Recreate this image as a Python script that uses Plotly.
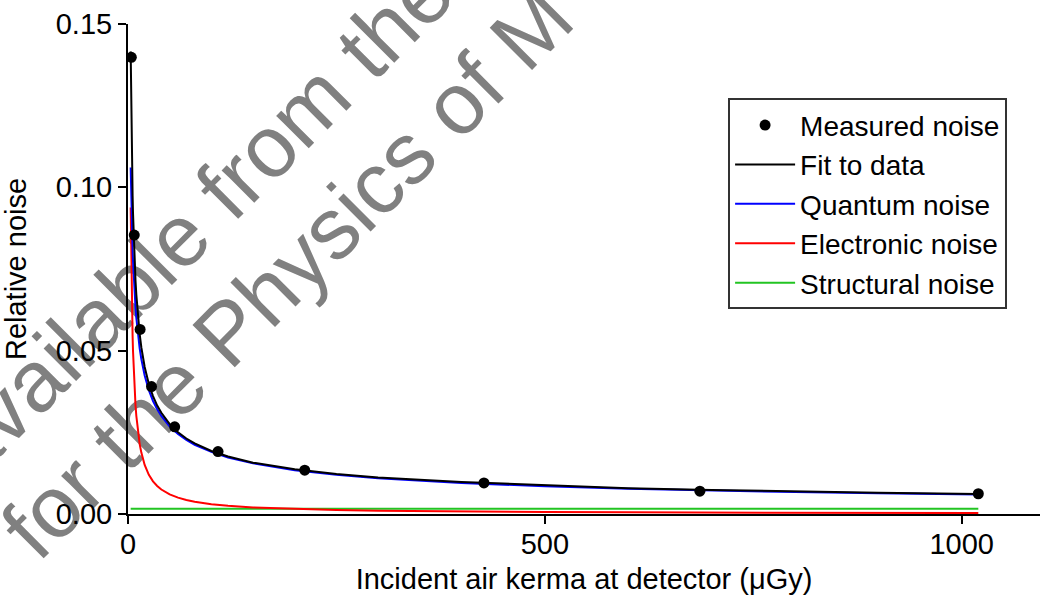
import plotly.graph_objects as go

# Measured noise points
dose_measured = [4.0, 7.5, 14.5, 28.2, 56.0, 108.0, 212.0, 427.0, 686.0, 1020.0]
noise_measured = [0.1398, 0.0854, 0.0565, 0.0390, 0.0267, 0.0191, 0.0134, 0.0095, 0.0070, 0.0062]

# Curve sample doses
dose_curve = [3.2, 3.6, 4, 4.5, 5, 5.5, 6, 7, 8, 9, 10, 12, 14, 16, 18, 20, 25, 30, 35, 40,
              50, 60, 70, 80, 100, 120, 150, 200, 250, 300, 400, 500, 600, 700, 800, 900, 1020]
fit_curve = [0.1416, 0.1302, 0.1209, 0.1116, 0.1039, 0.0976, 0.0922, 0.0836, 0.0769, 0.0715,
             0.0671, 0.0602, 0.0551, 0.0510, 0.0478, 0.0450, 0.0398, 0.0361, 0.0332, 0.0310,
             0.0275, 0.0250, 0.0231, 0.0216, 0.0193, 0.0176, 0.0157, 0.01369, 0.01226, 0.0112,
             0.00978, 0.0088, 0.00792, 0.00736, 0.00691, 0.00653, 0.00616]
quantum_curve = [0.1061, 0.1000, 0.0949, 0.0894, 0.0849, 0.0809, 0.0775, 0.0717, 0.0671, 0.0632,
                 0.0600, 0.0548, 0.0507, 0.0474, 0.0447, 0.0424, 0.0379, 0.0346, 0.0321, 0.0300,
                 0.0268, 0.0245, 0.0227, 0.0212, 0.0190, 0.0173, 0.0155, 0.0134, 0.0120, 0.01095,
                 0.00949, 0.00849, 0.00775, 0.00717, 0.00671, 0.00632, 0.00594]
electronic_curve = [0.0938, 0.0833, 0.0750, 0.0667, 0.0600, 0.0545, 0.0500, 0.0429, 0.0375, 0.0333,
                    0.0300, 0.0250, 0.0214, 0.0188, 0.0167, 0.0150, 0.0120, 0.0100, 0.0086, 0.0075,
                    0.0060, 0.0050, 0.0043, 0.00375, 0.0030, 0.0025, 0.0020, 0.0015, 0.0012, 0.0010,
                    0.00075, 0.0006, 0.0005, 0.00043, 0.00038, 0.00033, 0.00029]
structural_dose = [3.2, 1020]
structural_curve = [0.0016, 0.0016]

x_ticks = [0, 500, 1000]
x_tick_labels = ["0", "500", "1000"]
y_ticks = [0, 0.05, 0.10, 0.15]
y_tick_labels = ["0.00", "0.05", "0.10", "0.15"]

watermark_lines = ["available from the", "for the Physics of M"]

FONT = "Arial, Liberation Sans, sans-serif"

fig = go.Figure()
fig.add_trace(go.Scatter(x=structural_dose, y=structural_curve, mode="lines",
                         line=dict(color="#22c422", width=2), name="Structural noise", legendrank=5))
fig.add_trace(go.Scatter(x=dose_curve, y=electronic_curve, mode="lines",
                         line=dict(color="#ff0000", width=2), name="Electronic noise", legendrank=4))
fig.add_trace(go.Scatter(x=dose_curve, y=quantum_curve, mode="lines",
                         line=dict(color="#0000ff", width=2), name="Quantum noise", legendrank=3))
fig.add_trace(go.Scatter(x=dose_curve, y=fit_curve, mode="lines",
                         line=dict(color="#000000", width=2), name="Fit to data", legendrank=2))
fig.add_trace(go.Scatter(x=dose_measured, y=noise_measured, mode="markers",
                         marker=dict(color="#000000", size=11), name="Measured noise", legendrank=1))

fig.update_layout(
    width=1041, height=603,
    margin=dict(l=128, r=1, t=24, b=89),
    paper_bgcolor="white", plot_bgcolor="rgba(0,0,0,0)",
    font=dict(family=FONT, size=29, color="black"),
    showlegend=True,
    legend=dict(x=0.658, y=0.633, xanchor="left", yanchor="middle",
                bordercolor="#333333", borderwidth=2, bgcolor="white",
                font=dict(size=28), itemwidth=60, tracegroupgap=0),
    xaxis=dict(range=[0, 1094], tickvals=x_ticks, ticktext=x_tick_labels,
               showline=True, linecolor="black", linewidth=2, ticks="outside",
               ticklen=8, tickwidth=2, tickcolor="black", showgrid=False, zeroline=False,
               ticklabelstandoff=-5,
               title=dict(text="Incident air kerma at detector (\u03bcGy)", standoff=10,
                          font=dict(size=29))),
    yaxis=dict(range=[0, 0.15], tickvals=y_ticks, ticktext=y_tick_labels,
               showline=True, linecolor="black", linewidth=2, ticks="outside",
               ticklen=8, tickwidth=2, tickcolor="black", showgrid=False, zeroline=False,
               title=dict(text="Relative noise", standoff=22, font=dict(size=29))),
)

# Watermark text, drawn beneath the chart
centers = [(0.0663, 0.612), (0.1678, 0.505)]
for txt, (cx, cy) in zip(watermark_lines, centers):
    fig.add_shape(type="rect", xref="paper", yref="paper",
                  x0=cx - 0.001, x1=cx + 0.001, y0=cy - 0.001, y1=cy + 0.001,
                  layer="below", line=dict(width=0), fillcolor="rgba(0,0,0,0)",
                  label=dict(text=txt, textangle=-45, textposition="middle center",
                             font=dict(family=FONT, size=87, color="#808080")))

fig.write_html("out.html")
